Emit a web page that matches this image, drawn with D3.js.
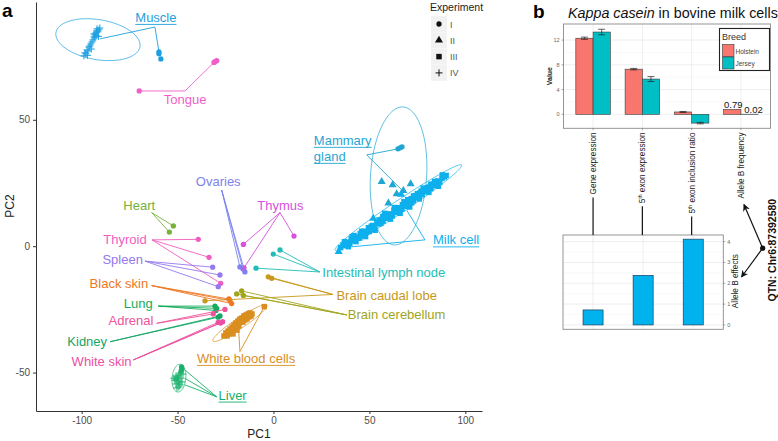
<!DOCTYPE html>
<html><head><meta charset="utf-8">
<script src="https://cdn.jsdelivr.net/npm/d3@7"></script>
<style>
body{margin:0;background:#fff}
svg{display:block;font-family:"Liberation Sans",Arial,Helvetica,sans-serif}
</style>
</head><body>
<svg id="c" width="778" height="441"></svg>
<script>
// ---------------- DATA: panel a (PCA) ----------------
const tissueNames = ["Muscle","Tongue","Mammary gland","Milk cell","Heart","Thyroid","Spleen","Ovaries","Thymus",
  "Intestinal lymph node","Brain caudal lobe","Brain cerebellum","Black skin","Lung","Adrenal","Kidney","White skin",
  "White blood cells","Liver"];
const tissuePalette = ["#1c9fe0","#ef5fca","#1fa6d3","#0db0ec","#76b23a","#f05dc0","#9478ec","#7c83ee","#d84fdc",
  "#22bdb8","#c9971a","#a0a51e","#ee7722","#16ac5b","#ee5299","#14a565","#ec4fa3","#d98e1f","#18b06c"];
const experiments = ["I","II","III","IV"];
const xTicksA = [-100,-50,0,50,100];
const yTicksA = [-50,0,50];

// [tissue, experiment, PC1, PC2]
const pcaPoints = [
  ["Muscle","IV",-98.8,75.3],["Muscle","IV",-98.3,76.5],["Muscle","IV",-97.8,76.1],["Muscle","IV",-97.2,77.6],
  ["Muscle","IV",-96.7,77.2],["Muscle","IV",-96.2,78.8],["Muscle","IV",-95.7,79.2],["Muscle","IV",-95.2,80.0],
  ["Muscle","IV",-94.6,80.8],["Muscle","IV",-94.1,81.6],["Muscle","IV",-93.6,82.8],["Muscle","IV",-93.1,83.6],
  ["Muscle","IV",-92.5,84.4],["Muscle","IV",-92.0,85.2],["Muscle","IV",-91.5,84.8],["Muscle","IV",-91.0,85.6],
  ["Muscle","IV",-92.5,83.2],["Muscle","IV",-93.6,84.0],["Muscle","IV",-92.0,86.0],["Muscle","IV",-93.1,82.4],
  ["Muscle","IV",-90.5,86.3],["Muscle","IV",-97.0,75.5],["Muscle","IV",-95.0,78.0],["Muscle","IV",-91.2,83.0],
  ["Muscle","I",-59.7,76.9],["Muscle","I",-59.7,76.1],["Muscle","I",-58.7,74.1],
  ["Tongue","I",-70.0,61.4],["Tongue","I",-30.5,73.0],["Tongue","I",-29.6,73.4],["Tongue","I",-31.0,72.7],
  ["Mammary gland","I",67.0,39.3],["Mammary gland","I",64.9,38.5],["Mammary gland","I",66.0,38.9],
  ["Mammary gland","II",56.4,25.5],["Mammary gland","II",62.1,24.2],["Mammary gland","II",64.2,20.7],
  ["Mammary gland","II",67.7,22.0],["Mammary gland","II",71.5,24.6],["Mammary gland","II",59.9,17.0],
  ["Milk cell","III",35.0,-0.6],["Milk cell","III",36.2,0.4],["Milk cell","III",37.5,0.2],["Milk cell","III",38.4,1.6],
  ["Milk cell","III",39.8,1.1],["Milk cell","III",40.5,2.9],["Milk cell","III",41.7,2.2],["Milk cell","III",42.9,3.6],
  ["Milk cell","III",44.0,3.1],["Milk cell","III",45.2,5.0],["Milk cell","III",46.1,4.2],["Milk cell","III",47.3,5.9],
  ["Milk cell","III",48.6,5.4],["Milk cell","III",49.5,7.3],["Milk cell","III",50.7,6.6],["Milk cell","III",51.8,8.2],
  ["Milk cell","III",52.6,7.4],["Milk cell","III",53.9,9.4],["Milk cell","III",55.0,8.8],["Milk cell","III",56.2,10.6],
  ["Milk cell","III",57.1,9.9],["Milk cell","III",58.3,11.9],["Milk cell","III",59.5,11.0],["Milk cell","III",60.4,12.8],
  ["Milk cell","III",61.6,12.2],["Milk cell","III",62.8,14.1],["Milk cell","III",63.7,13.3],["Milk cell","III",64.9,15.2],
  ["Milk cell","III",66.0,14.4],["Milk cell","III",67.2,16.4],["Milk cell","III",68.3,15.8],["Milk cell","III",69.5,17.6],
  ["Milk cell","III",70.6,16.9],["Milk cell","III",71.8,18.8],["Milk cell","III",72.9,18.0],["Milk cell","III",74.1,20.0],
  ["Milk cell","III",75.2,19.1],["Milk cell","III",76.4,21.1],["Milk cell","III",77.5,20.4],["Milk cell","III",78.7,22.3],
  ["Milk cell","III",79.8,21.5],["Milk cell","III",81.0,23.4],["Milk cell","III",82.1,22.8],["Milk cell","III",83.3,24.6],
  ["Milk cell","III",84.4,23.9],["Milk cell","III",85.6,25.8],["Milk cell","III",86.7,25.2],["Milk cell","III",87.9,26.9],
  ["Milk cell","III",89.2,27.4],["Milk cell","III",45.0,3.2],["Milk cell","III",50.0,5.8],["Milk cell","III",55.0,10.4],
  ["Milk cell","III",60.0,11.5],["Milk cell","III",65.0,13.6],["Milk cell","III",70.0,18.4],["Milk cell","III",75.0,20.8],
  ["Milk cell","III",80.0,23.0],["Milk cell","III",42.0,4.2],["Milk cell","III",57.0,11.8],["Milk cell","III",62.0,12.0],
  ["Milk cell","III",67.0,14.7],["Milk cell","III",72.0,17.2],["Milk cell","III",77.0,21.8],["Milk cell","III",82.0,24.5],
  ["Milk cell","III",37.0,1.8],["Milk cell","III",39.0,-0.2],["Milk cell","III",41.0,3.8],["Milk cell","III",43.0,1.8],
  ["Milk cell","III",46.0,5.9],["Milk cell","III",48.0,3.8],["Milk cell","III",51.0,7.9],["Milk cell","III",53.0,6.3],
  ["Milk cell","III",56.0,9.0],["Milk cell","III",58.0,13.0],["Milk cell","III",61.0,10.7],["Milk cell","III",63.0,15.3],
  ["Milk cell","III",66.0,13.0],["Milk cell","III",68.0,17.6],["Milk cell","III",71.0,15.5],["Milk cell","III",73.0,19.9],
  ["Milk cell","III",76.0,18.7],["Milk cell","III",78.0,23.0],["Milk cell","III",81.0,21.3],["Milk cell","III",84.0,25.6],
  ["Milk cell","III",86.0,23.7],["Milk cell","III",88.0,28.2],["Milk cell","III",90.0,28.0],
  ["Milk cell","II",34.0,-2.2],["Milk cell","II",52.0,11.0],["Milk cell","II",66.5,20.5],
  ["Heart","I",-52.2,8.0],["Heart","I",-54.3,5.6],
  ["Thyroid","I",-39.2,2.7],["Thyroid","I",-33.6,-4.4],["Thyroid","I",-27.5,-14.7],
  ["Spleen","I",-31.7,-8.3],["Spleen","I",-27.9,-11.4],["Spleen","I",-28.8,-16.0],
  ["Ovaries","I",-17.5,-8.2],["Ovaries","I",-14.9,-10.2],["Ovaries","I",-15.9,-9.0],
  ["Thymus","I",-15.7,0.7],["Thymus","I",10.7,4.0],["Thymus","I",-15.4,-8.6],
  ["Intestinal lymph node","I",3.4,-1.5],["Intestinal lymph node","I",-0.1,-3.1],["Intestinal lymph node","I",-9.1,-8.7],
  ["Brain caudal lobe","I",-2.7,-12.1],["Brain caudal lobe","I",-0.9,-12.7],["Brain caudal lobe","I",-35.7,-21.6],
  ["Brain cerebellum","I",-19.2,-18.9],["Brain cerebellum","I",-16.6,-17.7],["Brain cerebellum","I",-15.7,-19.5],
  ["Black skin","I",-22.7,-21.5],["Black skin","I",-21.8,-22.7],["Black skin","I",-23.2,-20.9],
  ["Lung","I",-30.5,-23.7],["Lung","I",-29.6,-24.6],["Lung","I",-30.0,-25.4],
  ["Adrenal","I",-31.4,-26.8],["Adrenal","I",-25.3,-25.0],
  ["Kidney","I",-27.9,-27.6],["Kidney","I",-28.8,-28.1],
  ["White skin","I",-28.8,-30.1],["White skin","I",-26.5,-29.9],["White skin","I",-27.6,-30.4],
  ["White blood cells","III",-25.8,-35.5],["White blood cells","III",-24.8,-34.3],["White blood cells","III",-23.7,-33.6],
  ["White blood cells","III",-24.2,-35.5],["White blood cells","III",-22.7,-32.8],["White blood cells","III",-21.6,-32.0],
  ["White blood cells","III",-22.2,-34.0],["White blood cells","III",-20.6,-31.2],["White blood cells","III",-19.6,-30.4],
  ["White blood cells","III",-20.1,-32.8],["White blood cells","III",-18.5,-29.6],["White blood cells","III",-17.5,-28.8],
  ["White blood cells","III",-18.0,-31.6],["White blood cells","III",-16.4,-28.4],["White blood cells","III",-15.4,-27.6],
  ["White blood cells","III",-15.9,-30.0],["White blood cells","III",-14.3,-27.2],["White blood cells","III",-13.3,-26.8],
  ["White blood cells","III",-13.8,-28.8],["White blood cells","III",-12.3,-26.4],["White blood cells","III",-11.2,-26.8],
  ["White blood cells","III",-21.1,-34.7],["White blood cells","III",-19.0,-33.2],["White blood cells","III",-16.9,-30.0],
  ["White blood cells","III",-14.9,-29.2],["White blood cells","III",-12.8,-28.0],["White blood cells","III",-23.2,-34.7],
  ["White blood cells","III",-19.6,-31.6],["White blood cells","III",-15.4,-28.8],["White blood cells","III",-11.7,-27.6],
  ["White blood cells","III",-4.8,-23.9],
  ["Liver","I",-47.9,-47.8],["Liver","I",-47.7,-48.6],["Liver","I",-48.2,-49.4],
  ["Liver","IV",-48.7,-50.2],["Liver","IV",-49.3,-51.0],["Liver","IV",-49.8,-51.8],["Liver","IV",-50.3,-52.6],
  ["Liver","IV",-49.8,-53.3],["Liver","IV",-49.3,-54.1],["Liver","IV",-48.7,-54.9],["Liver","IV",-50.3,-56.1],
  ["Liver","IV",-50.8,-51.4],["Liver","IV",-51.4,-53.0],["Liver","IV",-48.2,-52.2],["Liver","IV",-47.2,-50.6],
  ["Liver","IV",-50.8,-54.5],["Liver","IV",-49.3,-55.7],["Liver","IV",-47.7,-53.7],["Liver","IV",-51.9,-52.2]
];

// confidence ellipses: [tissue, centre PC1, centre PC2, axis1 PC1, axis1 PC2, axis2 PC1, axis2 PC2]
const ellipses = [
  ["Muscle",-91.5,81.7,21.9,-2.8,1.7,7.8],
  ["Mammary gland",65.2,27.8,2.35,27.3,14.6,-0.7],
  ["Milk cell",65.1,15.3,33.0,16.8,-1.8,2.1],
  ["White blood cells",-17.5,-30.4,14.1,7.1,1.5,-1.7],
  ["Liver",-49.3,-52.2,0.5,5.5,3.6,0]
];

// labels: [tissue, text, centre PC1, centre PC2, leader start PC1, leader start PC2, underlined]
const tissueLabels = [
  ["Muscle","Muscle",-61.3,90.5,-61.8,86.7,true],
  ["Tongue","Tongue",-46.1,57.9,-46.1,61.4,false],
  ["Mammary gland","Mammary|gland",36.1,38.7,48.6,36.1,true],
  ["Milk cell","Milk cell",95.2,2.5,79.0,2.5,true],
  ["Heart","Heart",-70.0,16.0,-63.5,13.3,false],
  ["Thyroid","Thyroid",-77.4,2.5,-63.3,2.5,false],
  ["Spleen","Spleen",-78.6,-5.1,-67.0,-5.9,false],
  ["Ovaries","Ovaries",-28.8,25.5,-27.0,22.2,false],
  ["Thymus","Thymus",3.6,15.9,3.4,13.3,false],
  ["Intestinal lymph node","Intestinal lymph node",57.5,-10.5,24.2,-10.2,false],
  ["Brain caudal lobe","Brain caudal lobe",59.0,-19.5,31.0,-19.1,false],
  ["Brain cerebellum","Brain cerebellum",64.2,-27.2,38.2,-27.2,false],
  ["Black skin","Black skin",-80.6,-14.7,-63.5,-15.6,false],
  ["Lung","Lung",-70.5,-22.6,-60.1,-23.7,false],
  ["Adrenal","Adrenal",-74.3,-29.5,-60.9,-30.5,false],
  ["Kidney","Kidney",-97.1,-37.8,-85.2,-37.8,false],
  ["White skin","White skin",-89.6,-45.7,-73.1,-45.0,false],
  ["White blood cells","White blood cells",-14.3,-44.4,-17.5,-41.7,true],
  ["Liver","Liver",-21.3,-58.9,-29.6,-59.6,true]
];

// leader line targets: [tissue, PC1, PC2]
const leaderEnds = [
  ["Muscle",-90.5,82.0],["Muscle",-59.7,76.9],
  ["Tongue",-70.0,61.4],["Tongue",-31.0,72.7],
  ["Mammary gland",64.9,38.5],["Mammary gland",67.5,21.8],
  ["Milk cell",33.0,-0.8],["Milk cell",69.4,14.3],
  ["Heart",-52.2,8.0],["Heart",-54.3,5.6],
  ["Thyroid",-39.2,2.7],["Thyroid",-33.6,-4.4],["Thyroid",-27.5,-14.7],
  ["Spleen",-31.7,-8.3],["Spleen",-27.9,-11.4],["Spleen",-28.8,-16.0],
  ["Ovaries",-17.5,-8.2],["Ovaries",-14.9,-10.2],["Ovaries",-15.9,-9.0],
  ["Thymus",-15.7,0.7],["Thymus",10.7,4.0],["Thymus",-15.4,-8.6],
  ["Intestinal lymph node",3.4,-1.5],["Intestinal lymph node",-0.1,-3.1],["Intestinal lymph node",-9.1,-8.7],
  ["Brain caudal lobe",-2.7,-12.1],["Brain caudal lobe",-0.9,-12.7],["Brain caudal lobe",-35.7,-21.6],
  ["Brain cerebellum",-19.2,-18.9],["Brain cerebellum",-16.6,-17.7],["Brain cerebellum",-15.7,-19.5],
  ["Black skin",-22.7,-21.5],["Black skin",-21.8,-22.7],["Black skin",-23.2,-20.9],
  ["Lung",-30.5,-23.7],["Lung",-29.6,-24.6],["Lung",-30.0,-25.4],
  ["Adrenal",-31.4,-26.8],["Adrenal",-25.3,-25.0],
  ["Kidney",-27.9,-27.6],["Kidney",-28.8,-28.1],
  ["White skin",-28.8,-30.1],["White skin",-26.5,-29.9],["White skin",-27.6,-30.4],
  ["White blood cells",-4.8,-23.9],["White blood cells",-18.4,-29.9],
  ["Liver",-46.1,-49.0],["Liver",-46.1,-52.3],["Liver",-46.1,-54.9]
];

// ---------------- DATA: panel b ----------------
const measures = ["Gene expression","5th exon expression","5th exon inclusion ratio","Allele B frequency"];
const breeds = ["Holstein","Jersey"];
const holsteinValues = [12.3, 7.3, 0.38, 0.79];
const jerseyValues = [13.3, 5.7, -1.42, 0.02];
const holsteinErrors = [0.18, 0.12, 0.08, 0];
const jerseyErrors = [0.45, 0.4, 0.12, 0];
const frequencyLabels = ["0.79","0.02"];
const valueTicks = [0,4,8,12];
const alleleEffects = [0.72, 2.38, 4.12];
const effectTicks = [0,1,2,3,4];
const qtnLabel = "QTN: Chr6:87392580";

// ---------------- DRAW ----------------
const svg = d3.select("#c");
const colorOf = d3.scaleOrdinal().domain(tissueNames).range(tissuePalette);

// ---- Panel a ----
const xA = d3.scaleLinear().domain([-123.8,108.7]).range([36,482]);
const yA = d3.scaleLinear().domain([-65.2,96.6]).range([411,2]);
const gA = svg.append("g");

svg.append("text").attr("x",2).attr("y",17).attr("font-size",19).attr("font-weight","bold").text("a");

const plainFmt = d=>String(d);
const axX = gA.append("g").attr("transform","translate(0,411)")
  .call(d3.axisBottom(xA).tickValues(xTicksA).tickFormat(plainFmt).tickSize(3).tickSizeOuter(0).tickPadding(3));
const axY = gA.append("g").attr("transform","translate(36,0)")
  .call(d3.axisLeft(yA).tickValues(yTicksA).tickFormat(plainFmt).tickSize(3).tickSizeOuter(0).tickPadding(3));
[axX,axY].forEach(a=>{
  a.select(".domain").attr("stroke","#333").attr("stroke-width",1);
  a.selectAll(".tick line").attr("stroke","#333");
  a.selectAll(".tick text").attr("fill","#4d4d4d").attr("font-size",10).attr("font-family","Liberation Sans, Arial, sans-serif");
});
gA.append("text").attr("x",259).attr("y",438).attr("text-anchor","middle").attr("font-size",12).attr("fill","#222").text("PC1");
gA.append("text").attr("transform","translate(14,206) rotate(-90)").attr("text-anchor","middle").attr("font-size",12).attr("fill","#222").text("PC2");

// ellipses
const closed = d3.line().x(d=>xA(d[0])).y(d=>yA(d[1])).curve(d3.curveLinearClosed);
ellipses.forEach(([t,cx,cy,ax,ay,bx,by])=>{
  const pts = d3.range(72).map(i=>{const a=i/72*2*Math.PI;
    return [cx+Math.cos(a)*ax+Math.sin(a)*bx, cy+Math.cos(a)*ay+Math.sin(a)*by];});
  gA.append("path").attr("d",closed(pts)).attr("fill","none").attr("stroke",colorOf(t)).attr("stroke-width",0.7);
});

// points
const symPath = {
  I: d3.symbol(d3.symbolCircle,22)(),
  II: d3.symbol(d3.symbolTriangle,28)(),
  III: d3.symbol(d3.symbolSquare,30)(),
  IV: "M-3.5,0H3.5M0,-3.5V3.5"
};
gA.append("g").selectAll("path").data(pcaPoints).join("path")
  .attr("transform",d=>`translate(${xA(d[2])},${yA(d[3])})`)
  .attr("d",d=>symPath[d[1]])
  .attr("fill",d=>d[1]==="IV"?"none":colorOf(d[0]))
  .attr("stroke",d=>d[1]==="IV"?colorOf(d[0]):"none")
  .attr("stroke-width",1);

// leader lines
const labelByTissue = new Map(tissueLabels.map(l=>[l[0],l]));
gA.append("g").selectAll("line").data(leaderEnds).join("line")
  .attr("x1",d=>xA(labelByTissue.get(d[0])[4])).attr("y1",d=>yA(labelByTissue.get(d[0])[5]))
  .attr("x2",d=>xA(d[1])).attr("y2",d=>yA(d[2]))
  .attr("stroke",d=>colorOf(d[0])).attr("stroke-width",0.9);

// labels
const lineH = 16;
tissueLabels.forEach(([t,txt,cx,cy,sx,sy,ul])=>{
  const lines = txt.split("|");
  const g = gA.append("g");
  const px = xA(cx), py = yA(cy);
  const top = py - (lines.length*lineH)/2;
  const texts = lines.map((ln,i)=>g.append("text").attr("font-size",13).attr("fill",colorOf(t))
      .attr("y", top + i*lineH + 12.5).text(ln));
  const widths = texts.map(tx=>tx.node().getComputedTextLength());
  const maxW = d3.max(widths);
  texts.forEach((tx,i)=>{
    tx.attr("x", px - maxW/2);
    if(ul){
      g.append("line").attr("x1",px-maxW/2).attr("x2",px-maxW/2+widths[i])
        .attr("y1",top+i*lineH+15).attr("y2",top+i*lineH+15)
        .attr("stroke",colorOf(t)).attr("stroke-width",0.9);
    }
  });
});

// legend (Experiment)
const lg = svg.append("g").attr("transform","translate(430,0)");
lg.append("text").attr("x",0).attr("y",11).attr("font-size",10.5).attr("fill","#222").text("Experiment");
experiments.forEach((e,i)=>{
  const cy = 24 + i*16.3;
  lg.append("rect").attr("x",1).attr("y",cy-8).attr("width",16).attr("height",16).attr("fill","#f2f2f2");
  lg.append("path").attr("transform",`translate(9,${cy})`).attr("d",symPath[e])
    .attr("fill",e==="IV"?"none":"#111").attr("stroke",e==="IV"?"#111":"none").attr("stroke-width",1);
  lg.append("text").attr("x",20).attr("y",cy+3.5).attr("font-size",9).attr("fill","#555").text(e);
});

// ---- Panel b ----
svg.append("text").attr("x",533).attr("y",18).attr("font-size",19).attr("font-weight","bold").text("b");
const title = svg.append("text").attr("x",568).attr("y",18).attr("font-size",14.3).attr("fill","#111");
title.append("tspan").attr("font-style","italic").text("Kappa casein");
title.append("tspan").text(" in bovine milk cells");

const L = {left:563.5,right:770.5,top:24,bottom:128.3};
const xB = d3.scalePoint().domain(measures).range([L.left,L.right]).padding(0.6);
const yB = d3.scaleLinear().domain([-2.26,14.6]).range([L.bottom,L.top]);
const gB = svg.append("g");
gB.append("rect").attr("x",L.left).attr("y",L.top).attr("width",L.right-L.left).attr("height",L.bottom-L.top).attr("fill","#fff");
const minorB = valueTicks.map(v=>v+2);
gB.selectAll(".mn").data(minorB.filter(v=>v<14.6)).join("line")
  .attr("x1",L.left).attr("x2",L.right).attr("y1",d=>yB(d)).attr("y2",d=>yB(d)).attr("stroke","#f3f3f3").attr("stroke-width",0.5);
gB.selectAll(".mj").data(valueTicks).join("line")
  .attr("x1",L.left).attr("x2",L.right).attr("y1",d=>yB(d)).attr("y2",d=>yB(d)).attr("stroke","#e6e6e6").attr("stroke-width",0.7);
gB.selectAll(".vg").data(measures).join("line")
  .attr("x1",d=>xB(d)).attr("x2",d=>xB(d)).attr("y1",L.top).attr("y2",L.bottom).attr("stroke","#e6e6e6").attr("stroke-width",0.7);

const bw = xB.step()*0.35;
const barData = measures.flatMap((m,i)=>[
  {m, b:"Holstein", v:holsteinValues[i], e:holsteinErrors[i], off:-bw},
  {m, b:"Jersey", v:jerseyValues[i], e:jerseyErrors[i], off:0}
]);
const breedColor = d3.scaleOrdinal().domain(breeds).range(["#f8766d","#00bfc4"]);
gB.selectAll(".bar").data(barData).join("rect")
  .attr("x",d=>xB(d.m)+d.off).attr("width",bw)
  .attr("y",d=>yB(Math.max(0,d.v))).attr("height",d=>Math.abs(yB(d.v)-yB(0)))
  .attr("fill",d=>breedColor(d.b)).attr("stroke","#3a3a3a").attr("stroke-width",0.6);
barData.filter(d=>d.e>0).forEach(d=>{
  const cx = xB(d.m)+d.off+bw/2, cw = 3.5;
  const path = `M${cx-cw},${yB(d.v+d.e)}H${cx+cw}M${cx},${yB(d.v+d.e)}V${yB(d.v-d.e)}M${cx-cw},${yB(d.v-d.e)}H${cx+cw}`;
  gB.append("path").attr("d",path).attr("fill","none").attr("stroke","#222").attr("stroke-width",0.7);
});
const fm = measures[3];
[holsteinValues[3],jerseyValues[3]].forEach((v,i)=>{
  gB.append("text").attr("x",xB(fm)+(i===0?-bw/2+1:bw/2+4)).attr("y",yB(v)-1.5)
    .attr("text-anchor","middle").attr("font-size",9.5).attr("fill","#111").text(frequencyLabels[i]);
});
gB.append("rect").attr("x",L.left).attr("y",L.top).attr("width",L.right-L.left).attr("height",L.bottom-L.top)
  .attr("fill","none").attr("stroke","#8a8a8a").attr("stroke-width",0.9);
valueTicks.forEach(v=>{
  gB.append("line").attr("x1",L.left-2).attr("x2",L.left).attr("y1",yB(v)).attr("y2",yB(v)).attr("stroke","#555").attr("stroke-width",0.5);
  gB.append("text").attr("x",L.left-4).attr("y",yB(v)+2).attr("text-anchor","end").attr("font-size",5.5).attr("fill","#666").text(v);
});
measures.forEach(m=>{
  gB.append("line").attr("x1",xB(m)).attr("x2",xB(m)).attr("y1",L.bottom).attr("y2",L.bottom+2).attr("stroke","#555").attr("stroke-width",0.5);
});
gB.append("text").attr("transform",`translate(552,${(L.top+L.bottom)/2}) rotate(-90)`).attr("text-anchor","middle")
  .attr("font-size",7).attr("font-weight","bold").attr("fill","#222").text("Value");
const bl = gB.append("g");
bl.append("rect").attr("x",719.5).attr("y",28.5).attr("width",50).attr("height",42).attr("fill","#fff").attr("stroke","#222").attr("stroke-width",1.1);
bl.append("text").attr("x",722).attr("y",40).attr("font-size",9).attr("fill","#333").text("Breed");
breeds.forEach((b,i)=>{
  bl.append("rect").attr("x",722.5).attr("y",44.5+i*12.5).attr("width",11.5).attr("height",12)
    .attr("fill",breedColor(b)).attr("stroke","#3a3a3a").attr("stroke-width",0.6);
  bl.append("text").attr("x",735.5).attr("y",53.5+i*12.5).attr("font-size",6.5).attr("fill","#444").text(b);
});

const labTop = 132.5;
const labEnds = {};
measures.forEach(m=>{
  const t = gB.append("text").attr("transform",`translate(${xB(m)+3},${labTop}) rotate(-90)`)
    .attr("text-anchor","end").attr("font-size",8.2).attr("fill","#222");
  if(m.startsWith("5th")){
    t.append("tspan").text("5");
    t.append("tspan").attr("font-size",5).attr("dy",-3).text("th");
    t.append("tspan").attr("dy",3).text(m.slice(3));
  } else t.text(m);
  labEnds[m] = labTop + t.node().getComputedTextLength() + 3;
});

// lower panel: allele B effects
const effMeasures = measures.slice(0,3);
const P = {left:563,right:723.3,top:235,bottom:329.3};
const xL = d3.scalePoint().domain(effMeasures).range([P.left,P.right]).padding(0.6);
const yL = d3.scaleLinear().domain([-0.21,4.32]).range([P.bottom,P.top]);
const gL = svg.append("g");
gL.selectAll(".mn").data(effectTicks.map(v=>v+0.5).filter(v=>v<4.32)).join("line")
  .attr("x1",P.left).attr("x2",P.right).attr("y1",d=>yL(d)).attr("y2",d=>yL(d)).attr("stroke","#f3f3f3").attr("stroke-width",0.5);
gL.selectAll(".mj").data(effectTicks).join("line")
  .attr("x1",P.left).attr("x2",P.right).attr("y1",d=>yL(d)).attr("y2",d=>yL(d)).attr("stroke","#e6e6e6").attr("stroke-width",0.7);
gL.selectAll(".vg").data(effMeasures).join("line")
  .attr("x1",d=>xL(d)).attr("x2",d=>xL(d)).attr("y1",P.top).attr("y2",P.bottom).attr("stroke","#e6e6e6").attr("stroke-width",0.7);
const lbw = xL.step()*0.4;
gL.selectAll(".bar").data(effMeasures).join("rect")
  .attr("x",(d)=>xL(d)-lbw/2).attr("width",lbw)
  .attr("y",(d,i)=>yL(alleleEffects[i])).attr("height",(d,i)=>yL(0)-yL(alleleEffects[i]))
  .attr("fill","#00b2ee").attr("stroke","#1d3f5c").attr("stroke-width",0.7);
gL.append("rect").attr("x",P.left).attr("y",P.top).attr("width",P.right-P.left).attr("height",P.bottom-P.top)
  .attr("fill","none").attr("stroke","#8a8a8a").attr("stroke-width",0.9);
effectTicks.forEach(v=>{
  gL.append("line").attr("x1",P.right).attr("x2",P.right+2).attr("y1",yL(v)).attr("y2",yL(v)).attr("stroke","#555").attr("stroke-width",0.5);
  gL.append("text").attr("x",P.right+4).attr("y",yL(v)+2).attr("font-size",5.5).attr("fill","#666").text(v);
});
gL.append("text").attr("transform",`translate(738,${(P.top+P.bottom)/2-1}) rotate(-90)`).attr("text-anchor","middle")
  .attr("font-size",8.2).attr("fill","#222").text("Allele B effects");

effMeasures.forEach(m=>{
  gL.append("line").attr("x1",xB(m)).attr("x2",xB(m)).attr("y1",labEnds[m]).attr("y2",P.top)
    .attr("stroke","#111").attr("stroke-width",1.2);
});

const defs = svg.append("defs");
defs.append("marker").attr("id","ah").attr("viewBox","0 0 10 10").attr("refX",9).attr("refY",5)
  .attr("markerWidth",6).attr("markerHeight",6).attr("orient","auto")
  .append("path").attr("d","M0,0L10,5L0,10L3,5Z").attr("fill","#111");
const qx = 762.7, qy = (P.top+P.bottom)/2 - 34;
svg.append("line").attr("x1",qx).attr("y1",qy).attr("x2",xB(measures[3])+3).attr("y2",labEnds[measures[3]]+3)
  .attr("stroke","#111").attr("stroke-width",1.2).attr("marker-end","url(#ah)");
svg.append("line").attr("x1",qx).attr("y1",qy).attr("x2",741.5).attr("y2",277)
  .attr("stroke","#111").attr("stroke-width",1.2).attr("marker-end","url(#ah)");
svg.append("circle").attr("cx",qx).attr("cy",qy).attr("r",2.6).attr("fill","#111");
svg.append("text").attr("transform",`translate(776,${qy+2}) rotate(-90)`).attr("text-anchor","middle")
  .attr("font-size",10.5).attr("font-weight","bold").attr("fill","#111").text(qtnLabel);
</script>
</body></html>
